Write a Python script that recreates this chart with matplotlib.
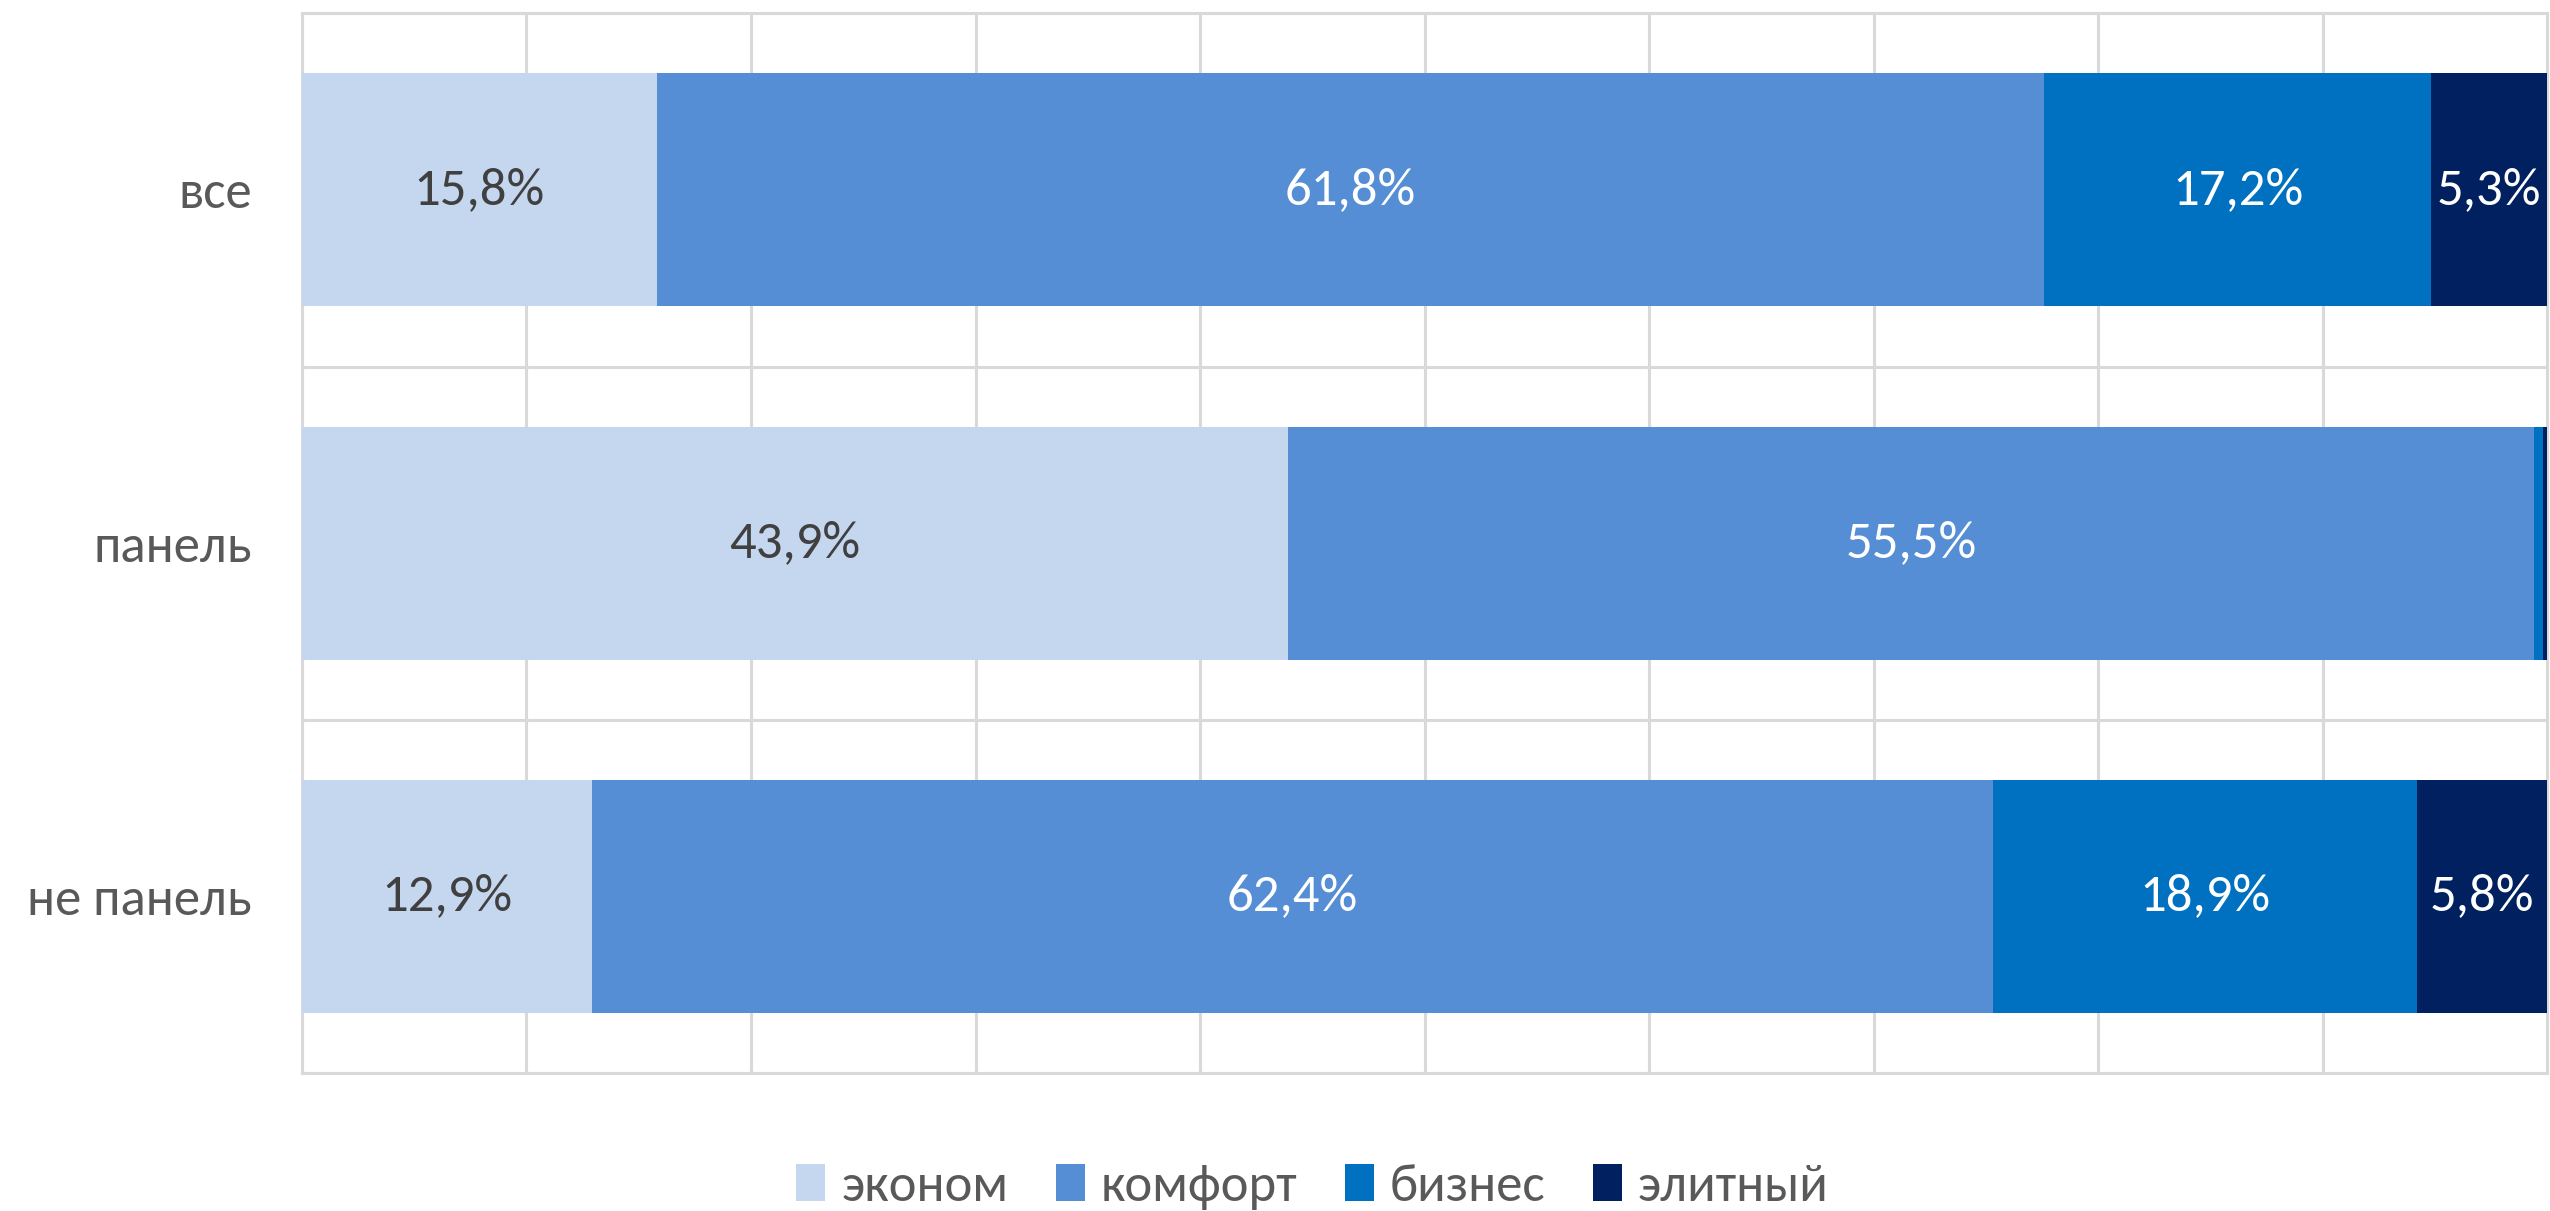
import numpy as np
import matplotlib.pyplot as plt

# data
categories = ['все', 'панель', 'не панель']
series_names = ['эконом', 'комфорт', 'бизнес', 'элитный']
econom = [15.8, 43.9, 12.9]
komfort = [61.8, 55.5, 62.4]
biznes = [17.2, 0.4, 18.9]
elit = [5.3, 0.2, 5.8]

colors = ['#C5D7EF', '#558ED5', '#0070C0', '#002060']
label_colors = ['#404040', 'white', 'white', 'white']

# Calibri-like font first, fallbacks after
plt.rcParams['font.family'] = ['Carlito', 'Open Sans Condensed', 'DejaVu Sans']

fig = plt.figure(figsize=(25.5, 12.11), dpi=100)
axis = fig.add_axes([0.1184, 0.114, 0.8806, 0.875])

grid_col = '#D9D9D9'
y = np.arange(len(categories))
left = np.zeros(len(categories))
for name, vals, col, lcol in zip(series_names, [econom, komfort, biznes, elit], colors, label_colors):
    vals = np.array(vals)
    bars = axis.barh(y, vals, left=left, height=0.66, color=col, label=name, zorder=3)
    # labels only for visible segments
    labs = [('%.1f%%' % v).replace('.', ',') if v >= 1 else '' for v in vals]
    axis.bar_label(bars, labels=labs, label_type='center', color=lcol, fontsize=38)
    left = left + vals

axis.set_xlim(0, 100)
axis.set_ylim(2.5, -0.5)
axis.set_xticks(np.arange(0, 101, 10))
axis.set_xticklabels([])
axis.set_yticks(y)
axis.set_yticklabels(categories, fontsize=38, color='#595959')
axis.set_yticks([-0.5, 0.5, 1.5, 2.5], minor=True)
axis.tick_params(axis='both', which='both', length=0)
axis.tick_params(axis='y', pad=36)
axis.grid(axis='x', which='major', color=grid_col, linewidth=2.2, zorder=0)
axis.grid(axis='y', which='minor', color=grid_col, linewidth=2.2, zorder=0)
for s in axis.spines.values():
    s.set_color(grid_col)
    s.set_linewidth(2.2)

fig.legend(loc='center', bbox_to_anchor=(0.5147, 0.02), ncol=4, frameon=False,
           fontsize=38, handlelength=0.55, handleheight=0.7, handletextpad=0.3,
           columnspacing=0.9, labelcolor='#595959')

fig.savefig('out.png')
